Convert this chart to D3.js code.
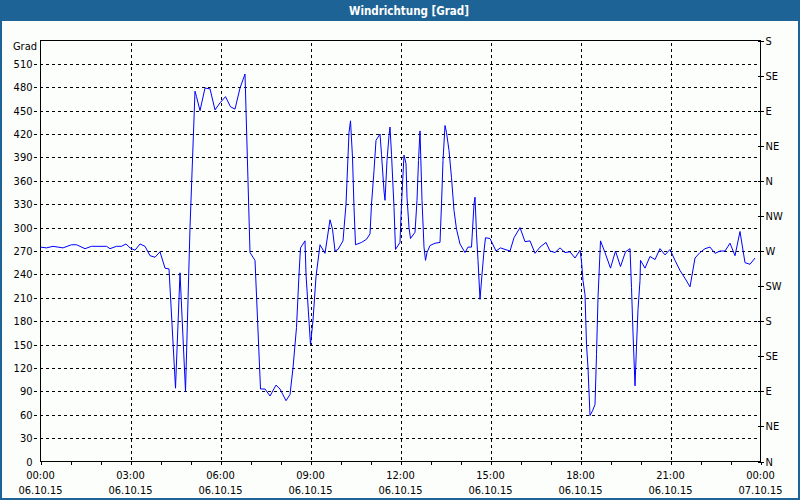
<!DOCTYPE html>
<html>
<head>
<meta charset="utf-8">
<script src="https://cdn.jsdelivr.net/npm/d3@7"></script>
<style>
  html, body { margin: 0; padding: 0; background: #fcfefc; }
  svg text { font-family: "DejaVu Sans Condensed", "DejaVu Sans", sans-serif; font-size: 11px; fill: #000; }
</style>
</head>
<body>
<svg id="chart" width="800" height="500"></svg>
<script>
const title = "Windrichtung [Grad]";
const unitLabel = "Grad";
// minutes since 06.10.15 00:00
const minutes = [0,12,25,45,62,72,89,102,132,139,152,162,171,179,189,199,209,219,229,239,249,257,270,279,290,299,309,312,319,329,339,349,359,370,380,389,399,409,419,425,429,440,449,459,471,479,491,499,505,512,517,520,529,531,540,545,551,559,569,579,584,589,595,605,611,617,620,624,627,630,642,652,659,662,667,671,679,682,687,689,693,697,699,702,707,710,719,721,724,727,731,733,737,740,749,753,756,759,763,767,770,773,779,789,799,802,805,809,812,817,822,827,832,839,849,855,862,867,869,872,875,879,883,887,890,899,911,920,929,939,947,959,969,979,989,999,1011,1019,1029,1039,1049,1059,1069,1079,1082,1085,1089,1092,1095,1099,1104,1109,1112,1115,1120,1129,1140,1150,1160,1170,1179,1182,1185,1189,1192,1195,1199,1200,1209,1219,1229,1239,1249,1259,1269,1279,1289,1299,1309,1319,1329,1339,1349,1359,1369,1379,1389,1399,1409,1419,1429];
const degrees = [275,274,276,274,278,278,273,276,276,273,276,276,279,274,271,279,276,264,262,269,248,247,94,242,90,300,475,468,450,479,478,451,460,468,455,452,479,497,268,262,258,93,93,84,98,93,78,86,120,172,240,274,283,240,150,181,237,278,267,310,298,270,272,283,330,422,437,390,326,278,281,285,292,330,373,412,420,394,347,335,386,418,429,394,326,272,281,315,356,393,382,339,300,286,294,335,386,424,335,275,258,268,277,280,281,330,386,431,422,399,364,322,298,279,268,275,275,330,339,292,258,208,240,270,287,286,270,274,272,270,287,300,282,283,267,275,281,270,268,274,268,269,261,271,257,232,214,150,120,59,65,73,137,210,283,268,248,270,250,269,273,223,165,97,148,195,232,258,248,263,259,273,265,272,258,245,235,224,261,268,273,275,267,270,270,280,264,295,255,253,261];
const leftTicks = d3.range(0, 511, 30);
const rightTicks = [0,45,90,135,180,225,270,315,360,405,450,495,540];
const rightLabels = ["N","NE","E","SE","S","SW","W","NW","N","NE","E","SE","S"];
const hourTicks = d3.range(0, 25, 1);
const labelHours = [0,3,6,9,12,15,18,21,24];
const timeLabels = ["00:00","03:00","06:00","09:00","12:00","15:00","18:00","21:00","00:00"];
const dateLabels = ["06.10.15","06.10.15","06.10.15","06.10.15","06.10.15","06.10.15","06.10.15","06.10.15","07.10.15"];

(function () {
const svg = d3.select("#chart");
const W = 800, H = 500;
const frameColor = "#1e6395";
const pL = 40.5, pR = 760.5, pT = 40.5, pB = 461.5;

const x = d3.scaleLinear().domain([0, 1440]).range([pL, pR]);
const y = d3.scaleLinear().domain([0, 540]).range([pB, pT]);

svg.append("rect").attr("x",0).attr("y",0).attr("width",W).attr("height",H).attr("fill","#fcfefc");
svg.append("rect").attr("x",0).attr("y",0).attr("width",W).attr("height",21).attr("fill",frameColor);
svg.append("text").attr("x",409).attr("y",15).attr("text-anchor","middle")
  .style("font-weight","bold").style("fill","#ffffff").style("font-size","11.5px").text(title);
svg.append("rect").attr("x",1).attr("y",1).attr("width",W-2).attr("height",H-2)
  .attr("fill","none").attr("stroke",frameColor).attr("stroke-width",2);

// horizontal grid
svg.append("g").selectAll("line").data(leftTicks.filter(d => d > 0)).join("line")
  .attr("x1", 34).attr("x2", pR - 3)
  .attr("y1", d => Math.round(y(d)) + 0.5).attr("y2", d => Math.round(y(d)) + 0.5)
  .attr("stroke","#000").attr("stroke-dasharray","3,3").attr("shape-rendering","crispEdges");
// vertical grid
svg.append("g").selectAll("line").data(labelHours.filter(h => h > 0 && h < 24)).join("line")
  .attr("x1", d => Math.round(x(d*60)) + 0.5).attr("x2", d => Math.round(x(d*60)) + 0.5)
  .attr("y1", pT + 2).attr("y2", pB)
  .attr("stroke","#000").attr("stroke-dasharray","3,3").attr("shape-rendering","crispEdges");

// left axis labels
const yAxis = d3.axisLeft(y).tickValues(leftTicks).tickSize(0).tickPadding(8);
const gy = svg.append("g").attr("transform",`translate(${pL},0)`).call(yAxis);
gy.select(".domain").remove();
gy.selectAll("text").attr("font-size",null).attr("font-family",null);
gy.attr("font-size",null).attr("font-family",null);
svg.append("text").attr("x",37).attr("y",50).attr("text-anchor","end").text(unitLabel);

// right axis
const rAxis = d3.axisRight(y).tickValues(rightTicks).tickFormat((d,i) => rightLabels[i]).tickSize(3).tickPadding(2);
const gr = svg.append("g").attr("transform",`translate(${pR},0)`).call(rAxis);
gr.attr("font-size",null).attr("font-family",null);
gr.select(".domain").remove();
gr.selectAll(".tick line").attr("x1",-3).attr("x2",3).attr("stroke","#000").attr("shape-rendering","crispEdges");

// bottom axis ticks
const xAxis = d3.axisBottom(x).tickValues(hourTicks.map(h => h*60)).tickSize(3).tickFormat("");
const gx = svg.append("g").attr("transform",`translate(0,${pB})`).call(xAxis);
gx.select(".domain").remove();
gx.selectAll(".tick line").attr("stroke","#000").attr("shape-rendering","crispEdges");

// bottom labels
const gl = svg.append("g");
gl.selectAll("text.t").data(labelHours).join("text").attr("class","t")
  .attr("x", d => x(d*60)).attr("y", 479).attr("text-anchor","middle")
  .text((d,i) => timeLabels[i]);
gl.selectAll("text.d").data(labelHours).join("text").attr("class","d")
  .attr("x", d => x(d*60)).attr("y", 494).attr("text-anchor","middle")
  .text((d,i) => dateLabels[i]);

// plot frame
svg.append("path")
  .attr("d", `M${pL},${pT}H${pR}V${pB}H${pL}Z`)
  .attr("fill","none").attr("stroke","#000").attr("shape-rendering","crispEdges");

// data line
const pts = minutes.map((m,i) => [m, degrees[i]]);
const line = d3.line().x(d => x(d[0])).y(d => y(d[1]));
svg.append("path").datum(pts).attr("d", line)
  .attr("fill","none").attr("stroke","#0000ff").attr("stroke-width",1);
})();
</script>
</body>
</html>
